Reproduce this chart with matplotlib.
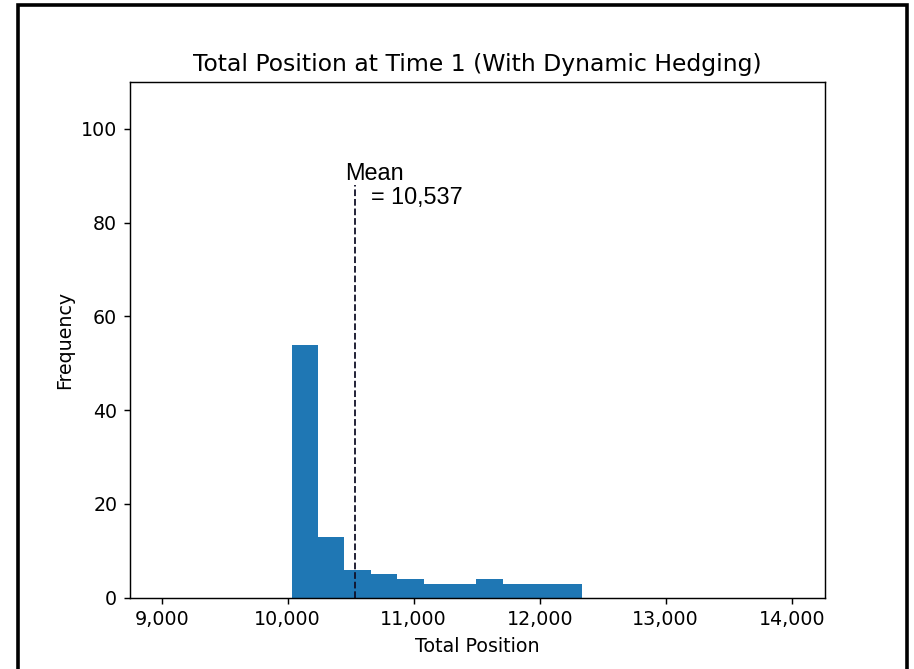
import matplotlib
matplotlib.use("Agg")
import matplotlib.pyplot as plt
from matplotlib.patches import Rectangle
from matplotlib.ticker import FuncFormatter

# ---------------------------------------------------------------------------
# Data
# ---------------------------------------------------------------------------
bin_edges = [10032, 10241, 10450, 10660, 10869, 11078, 11287,
             11496, 11706, 11915, 12124, 12333]
counts = [54, 13, 6, 5, 4, 3, 3, 4, 3, 3, 3]
mean_value = 10537

title = "Total Position at Time 1 (With Dynamic Hedging)"
xlabel = "Total Position"
ylabel = "Frequency"

# ---------------------------------------------------------------------------
# Figure
# ---------------------------------------------------------------------------
DPI = 130
fig = plt.figure(figsize=(914 / DPI, 669 / DPI), dpi=DPI)
ax = fig.add_axes([130 / 914, 71.3 / 669, 695 / 914, 515.7 / 669])

centers = [(a + b) / 2 for a, b in zip(bin_edges[:-1], bin_edges[1:])]
ax.hist(centers, bins=bin_edges, weights=counts, color="#1f77b4")

ax.axvline(mean_value, ymin=0, ymax=0.8, color="#101028",
           linestyle="--", linewidth=1)
ax.text(10455, 83.0, f"Mean\n    = {mean_value:,}",
        family="Liberation Sans", fontsize=13, ha="left", va="bottom",
        linespacing=1.05)

ax.set_xlim(8748, 14264)
ax.set_ylim(0, 110)
ax.set_yticks([0, 20, 40, 60, 80, 100])
ax.xaxis.set_major_formatter(FuncFormatter(lambda v, p: f"{v:,.0f}"))
ax.tick_params(labelsize=10.5)

ax.set_title(title, fontsize=13)
ax.set_xlabel(xlabel, fontsize=10.5)
ax.set_ylabel(ylabel, fontsize=10.5)

# outer frame around the whole picture
fig.add_artist(Rectangle((18 / 914, -0.1), (907 - 18) / 914, 1.1 - 5 / 669,
                         transform=fig.transFigure, fill=False,
                         edgecolor="black", linewidth=2))

fig.savefig("out.png", dpi=DPI)
